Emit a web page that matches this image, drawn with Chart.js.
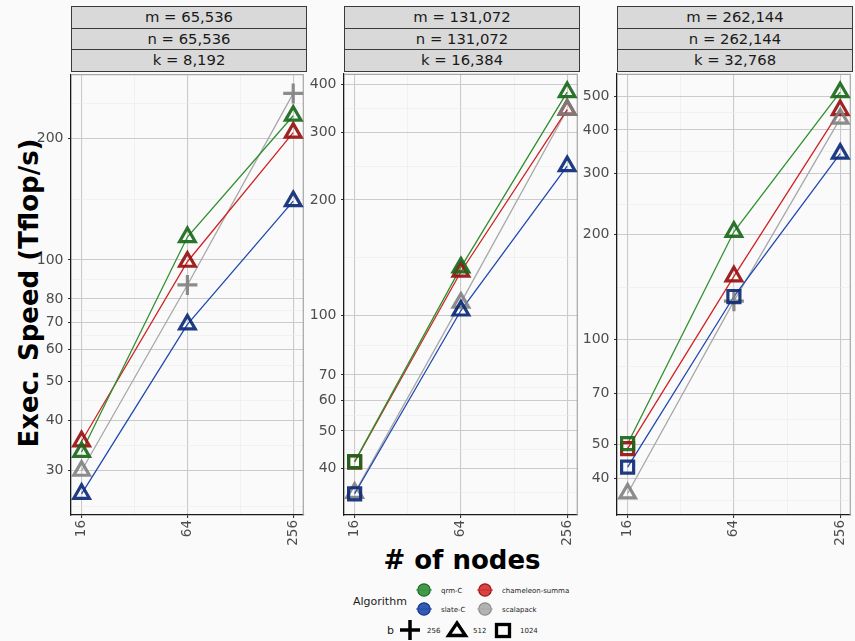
<!DOCTYPE html>
<html>
<head>
<meta charset="utf-8">
<script src="https://cdn.jsdelivr.net/npm/chart.js@4.4.1/dist/chart.umd.min.js"></script>
<style>
  html, body { margin: 0; padding: 0; }
  body {
    width: 855px; height: 641px; position: relative; overflow: hidden;
    background: #fafafa; font-family: "DejaVu Sans", sans-serif;
  }
  .strip {
    position: absolute; box-sizing: border-box; background: #d9d9d9;
    border: 1px solid #3a3a3a; color: #1a1a1a; font-size: 14.8px;
    text-align: center; white-space: nowrap;
  }
  .panel { position: absolute; }
  .title { position: absolute; font-weight: bold; font-size: 26px; color: #000; white-space: nowrap; line-height: 26px; }
  #ytitle { transform: translate(-50%, -50%) rotate(-90deg); }
  #xtitle { transform: translate(-50%, -50%); }
  #legend { position: absolute; left: 0; top: 0; }
</style>
</head>
<body>
<div id="xtitle" class="title" style="left:462px; top:560px;"># of nodes</div>
<div id="ytitle" class="title" style="left:29px; top:293px;">Exec. Speed (Tflop/s)</div>
<svg id="legend" width="855" height="641"></svg>

<script>
// ---- data ----
const nodes = [16, 64, 256];
const algorithms = ['qrm-C', 'chameleon-summa', 'slate-C', 'scalapack'];
const blockSizes = [256, 512, 1024];

const stripM = ['m = 65,536', 'm = 131,072', 'm = 262,144'];
const stripN = ['n = 65,536', 'n = 131,072', 'n = 262,144'];
const stripK = ['k = 8,192', 'k = 16,384', 'k = 32,768'];

// Tflop/s per algorithm, panel 1 (k = 8,192)
const qrmC_1 = [33.4, 114, 228];
const chameleon_1 = [35.5, 99, 207];
const slateC_1 = [26.3, 69.2, 140];
const scalapack_1 = [30.0, 86.7, 259];
// block size b per point, panel 1
const qrmC_b1 = [512, 512, 512];
const chameleon_b1 = [512, 512, 512];
const slateC_b1 = [512, 512, 512];
const scalapack_b1 = [512, 256, 256];

// panel 2 (k = 16,384)
const qrmC_2 = [41.6, 133.4, 382];
const chameleon_2 = [41.5, 130, 344];
const slateC_2 = [34.3, 103, 245];
const scalapack_2 = [34.5, 108, 344];
const qrmC_b2 = [1024, 512, 512];
const chameleon_b2 = [1024, 512, 512];
const slateC_b2 = [1024, 512, 512];
const scalapack_b2 = [512, 512, 512];

// panel 3 (k = 32,768)
const qrmC_3 = [50.3, 204, 513];
const chameleon_3 = [48.7, 152, 456];
const slateC_3 = [43.1, 133, 342];
const scalapack_3 = [36.2, 129, 431];
const qrmC_b3 = [1024, 512, 512];
const chameleon_b3 = [1024, 512, 512];
const slateC_b3 = [1024, 1024, 512];
const scalapack_b3 = [512, 256, 512];

// axis breaks
const xMajor = [16, 64, 256];
const yMajor_1 = [30, 40, 50, 60, 70, 80, 100, 200];
const yMajor_2 = [40, 50, 60, 70, 100, 200, 300, 400];
const yMajor_3 = [40, 50, 70, 100, 200, 300, 400, 500];
// neighbouring breaks just outside each panel, used for minor grid lines
const yOuter_1 = [20, 300];
const yOuter_2 = [30, 500];
const yOuter_3 = [30, 700];
const yLimits_1 = [23.3, 289];
const yLimits_2 = [30.2, 426];
const yLimits_3 = [31.4, 579];

// ---- styling ----
const lineColor = { 'qrm-C': '#2f8f2f', 'chameleon-summa': '#d02424', 'slate-C': '#1f48b0', 'scalapack': '#a8a8a8' };
const markColor = { 'qrm-C': 'rgba(26,104,26,0.92)', 'chameleon-summa': 'rgba(152,16,16,0.92)', 'slate-C': 'rgba(12,42,118,0.92)', 'scalapack': 'rgba(128,128,128,0.9)' };
const legendFill = { 'qrm-C': '#2f8f3c', 'chameleon-summa': '#d23030', 'slate-C': '#1f48aa', 'scalapack': '#ababab' };
const legendEdge = { 'qrm-C': '#1f6b28', 'chameleon-summa': '#a01818', 'slate-C': '#133a8a', 'scalapack': '#8c8c8c' };
const drawOrder = { 'slate-C': 0, 'qrm-C': 1, 'scalapack': 2, 'chameleon-summa': 3 };
const shapeOf = { 256: 'cross', 512: 'triangle', 1024: 'rect' };
const radiusOf = { 256: 10, 512: 9, 1024: 8.5 };

const panelLeft = [71, 344, 617];
const panelWidth = 236;
const panelTop = 71;
const panelHeight = 444;
const stripH = [6, 27.6, 49.3, 71];

Chart.defaults.font.family = '"DejaVu Sans", sans-serif';

const panels = [
  { series: [qrmC_1, chameleon_1, slateC_1, scalapack_1], bs: [qrmC_b1, chameleon_b1, slateC_b1, scalapack_b1], yMajor: yMajor_1, yOuter: yOuter_1, yLim: yLimits_1 },
  { series: [qrmC_2, chameleon_2, slateC_2, scalapack_2], bs: [qrmC_b2, chameleon_b2, slateC_b2, scalapack_b2], yMajor: yMajor_2, yOuter: yOuter_2, yLim: yLimits_2 },
  { series: [qrmC_3, chameleon_3, slateC_3, scalapack_3], bs: [qrmC_b3, chameleon_b3, slateC_b3, scalapack_b3], yMajor: yMajor_3, yOuter: yOuter_3, yLim: yLimits_3 }
];

function minorBetween(list) {
  const out = [];
  for (let i = 0; i < list.length - 1; i++) out.push(Math.sqrt(list[i] * list[i + 1]));
  return out;
}

// grey top/right edges of each panel
const panelFrame = {
  id: 'panelFrame',
  beforeDatasetsDraw(chart) {
    const a = chart.chartArea, c = chart.ctx;
    c.save();
    c.strokeStyle = '#a6a6a6';
    c.lineWidth = 1.2;
    c.beginPath();
    c.moveTo(a.left, a.top + 0.5);
    c.lineTo(a.right - 0.5, a.top + 0.5);
    c.lineTo(a.right - 0.5, a.bottom);
    c.stroke();
    c.restore();
  }
};

const YW = 45, PADR = 10, PADT = 10, XH = 50;

panels.forEach((p, idx) => {
  const L = panelLeft[idx];

  // facet strips
  [stripM, stripN, stripK].forEach((labels, r) => {
    const d = document.createElement('div');
    d.className = 'strip';
    const top = stripH[r], h = stripH[r + 1] - stripH[r];
    d.style.cssText = `left:${L}px; top:${top}px; width:${panelWidth}px; height:${h + 1}px; line-height:${h - 1}px;`;
    d.textContent = labels[idx];
    document.body.appendChild(d);
  });

  const wrap = document.createElement('div');
  wrap.className = 'panel';
  const W = YW + panelWidth + PADR, H = PADT + panelHeight + XH;
  wrap.style.cssText = `left:${L - YW}px; top:${panelTop - PADT}px; width:${W}px; height:${H}px;`;
  const cv = document.createElement('canvas');
  cv.width = W; cv.height = H;
  cv.style.width = W + 'px'; cv.style.height = H + 'px';
  wrap.appendChild(cv);
  document.body.appendChild(wrap);

  const datasets = [];
  algorithms.forEach((alg, a) => {
    const pts = nodes.map((n, i) => ({ x: n, y: p.series[a][i] }));
    datasets.push({
      label: alg, data: pts, order: 10,
      borderColor: lineColor[alg], borderWidth: 1.3,
      pointRadius: 0, pointHoverRadius: 0, fill: false, tension: 0
    });
    datasets.push({
      label: alg + ' (b)', data: pts, order: drawOrder[alg], showLine: false,
      pointStyle: p.bs[a].map(b => shapeOf[b]),
      pointRadius: p.bs[a].map(b => radiusOf[b]),
      pointHoverRadius: p.bs[a].map(b => radiusOf[b]),
      pointBorderColor: markColor[alg], pointBackgroundColor: 'rgba(0,0,0,0)',
      pointBorderWidth: 3.2, pointHoverBorderWidth: 3.2
    });
  });

  const xMinor = minorBetween(xMajor);
  const xTicks = [...xMajor, ...xMinor].sort((a, b) => a - b);
  const yFull = [p.yOuter[0], ...p.yMajor, p.yOuter[1]];
  const yTicks = [...p.yMajor, ...minorBetween(yFull)]
    .filter(v => v >= p.yLim[0] && v <= p.yLim[1]).sort((a, b) => a - b);
  const xSet = new Set(xMajor), ySet = new Set(p.yMajor);

  const gridOpts = (set) => ({
    color: ctx => (ctx.tick && set.has(ctx.tick.value)) ? '#cbcbcb' : '#ebebeb',
    lineWidth: ctx => (ctx.tick && set.has(ctx.tick.value)) ? 1.1 : 0.6,
    tickColor: ctx => (ctx.tick && set.has(ctx.tick.value)) ? '#333333' : 'rgba(0,0,0,0)',
    tickLength: 3,
    drawTicks: true
  });

  new Chart(cv, {
    type: 'line',
    data: { datasets },
    plugins: [panelFrame],
    options: {
      responsive: false, animation: false, devicePixelRatio: 1,
      events: [],
      layout: { padding: { top: PADT, right: PADR, left: 0, bottom: 0 } },
      plugins: { legend: { display: false }, tooltip: { enabled: false } },
      elements: { line: { capBezierPoints: false } },
      scales: {
        x: {
          type: 'logarithmic',
          min: 16 / Math.pow(2, 0.2), max: 256 * Math.pow(2, 0.2),
          afterBuildTicks: s => { s.ticks = xTicks.map(v => ({ value: v, major: xSet.has(v) })); },
          afterFit: s => { s.height = XH; },
          ticks: {
            autoSkip: false, minRotation: 90, maxRotation: 90, padding: 2,
            color: '#4d4d4d', font: { size: 13.5 },
            callback: v => xSet.has(v) ? String(v) : ''
          },
          grid: gridOpts(xSet),
          border: { display: true, color: '#1a1a1a', width: 1.3 }
        },
        y: {
          type: 'logarithmic',
          min: p.yLim[0], max: p.yLim[1],
          afterBuildTicks: s => { s.ticks = yTicks.map(v => ({ value: v, major: ySet.has(v) })); },
          afterFit: s => { s.width = YW; },
          ticks: {
            autoSkip: false, padding: 4.5,
            color: '#4d4d4d', font: { size: 14 },
            callback: v => ySet.has(v) ? String(v) : ''
          },
          grid: gridOpts(ySet),
          border: { display: true, color: '#1a1a1a', width: 1.3 }
        }
      }
    }
  });
});

// ---- legend ----
const svgNS = 'http://www.w3.org/2000/svg';
const svg = document.getElementById('legend');
function el(tag, attrs, text) {
  const e = document.createElementNS(svgNS, tag);
  for (const k in attrs) e.setAttribute(k, attrs[k]);
  if (text !== undefined) e.textContent = text;
  svg.appendChild(e);
  return e;
}
el('text', { x: 353, y: 604.5, 'font-size': 11, fill: '#1a1a1a', 'font-family': 'DejaVu Sans' }, 'Algorithm');
const keyPos = { 'qrm-C': [424, 590], 'chameleon-summa': [485, 590], 'slate-C': [424, 609], 'scalapack': [485, 609] };
algorithms.forEach(alg => {
  const [cx, cy] = keyPos[alg];
  el('circle', { cx, cy, r: 6.2, fill: legendFill[alg], 'fill-opacity': 0.9, stroke: legendEdge[alg], 'stroke-width': 1.3 });
  el('line', { x1: cx - 8, y1: cy, x2: cx + 8, y2: cy, stroke: lineColor[alg], 'stroke-width': 1.2, 'stroke-opacity': 0.8 });
  el('text', { x: cx + 17, y: cy + 2.5, 'font-size': 7, fill: '#1a1a1a', 'font-family': 'DejaVu Sans' }, alg);
});
el('text', { x: 387, y: 634, 'font-size': 11, fill: '#1a1a1a', 'font-family': 'DejaVu Sans' }, 'b');
const bPos = { 256: 410, 512: 457, 1024: 503 };
const bText = { 256: 427, 512: 473, 1024: 520 };
blockSizes.forEach(b => {
  const cx = bPos[b], cy = 630;
  if (b === 256) {
    el('path', { d: `M${cx - 10},${cy} H${cx + 10} M${cx},${cy - 10} V${cy + 10}`, stroke: '#000', 'stroke-width': 3.5, fill: 'none' });
  } else if (b === 512) {
    el('path', { d: `M${cx},${cy - 7} L${cx + 8.5},${cy + 5.5} L${cx - 8.5},${cy + 5.5} Z`, stroke: '#000', 'stroke-width': 3.3, fill: 'none', 'stroke-linejoin': 'miter' });
  } else {
    el('rect', { x: cx - 6.5, y: cy - 5.5, width: 13, height: 12, stroke: '#000', 'stroke-width': 3.3, fill: 'none' });
  }
  el('text', { x: bText[b], y: cy + 3, 'font-size': 7, fill: '#1a1a1a', 'font-family': 'DejaVu Sans' }, String(b));
});
</script>
</body>
</html>
